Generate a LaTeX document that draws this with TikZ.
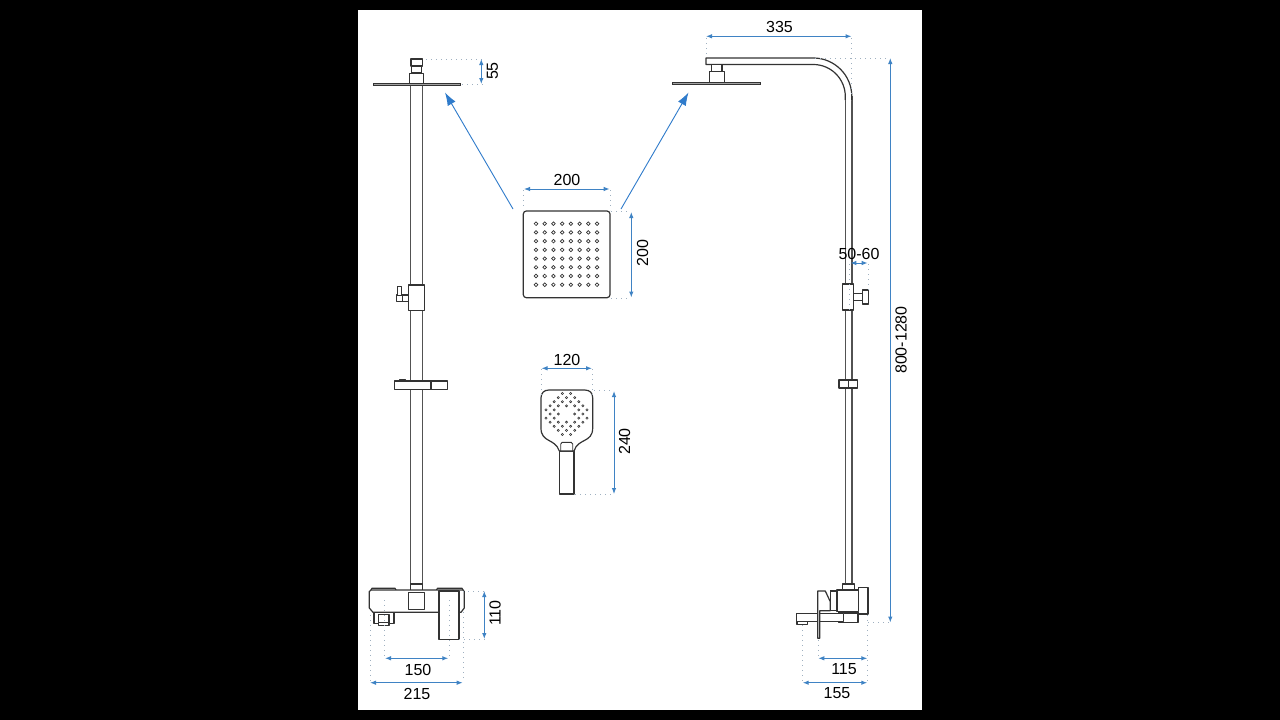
\documentclass[tikz,border=0pt]{standalone}
\usepackage{fontspec}
\setmainfont{Liberation Sans}
\usetikzlibrary{arrows.meta}
\definecolor{dimblue}{HTML}{3F83C4}
\definecolor{arrowblue}{HTML}{2F7BCB}
\definecolor{dotgray}{HTML}{9FB0C0}
\definecolor{partgray}{HTML}{333333}
\tikzset{
  part/.style={draw=partgray,line width=1.2pt,line join=round,fill=white},
  pipe/.style={draw=partgray!85,line width=1.5pt},
  plate/.style={draw=partgray,line width=1pt,fill=partgray!45},
  dimline/.style={draw=dimblue,line width=1pt,{Latex[length=6pt,width=4.5pt]}-{Latex[length=6pt,width=4.5pt]}},
  leader/.style={draw=dotgray,line width=1pt,dash pattern=on 1pt off 4pt},
  pointer/.style={draw=arrowblue,line width=0.9pt,-{Latex[length=13pt,width=9pt]}},
  dimtext/.style={font=\fontsize{16}{16}\selectfont,text=black,inner sep=0pt},
}
\begin{document}
\begin{tikzpicture}[x=1pt,y=-1pt]
  \useasboundingbox (0,0) rectangle (1280,720);
  \fill[black] (0,0) rectangle (1280,720);
  \fill[white] (358,10) rectangle (922,710);
  % left view, pipe and head
  \draw[pipe] (410.7,85) -- (410.7,584) (422.3,85) -- (422.3,584);
  \draw[part] (411,59) rectangle (422.5,66);
  \draw[part] (411.5,66) rectangle (421.5,73);
  \draw[part,line width=.9pt] (409.7,73) rectangle (423,83);
  \draw[plate] (373,83) rectangle (460.5,85.3);
  \draw[part] (408.3,285) rectangle (424.3,310.7);
  \draw[part] (402.3,295) rectangle (408.3,301.5);
  \draw[part] (396.7,295) rectangle (402.3,301.7);
  \draw[part,line width=.9pt] (397.7,286) rectangle (401.7,295);
  \draw[part] (400,379.5) rectangle (405.7,381);
  \draw[part] (394.3,381) rectangle (447.3,389.3);
  \draw[partgray,line width=1.6pt] (431,381) -- (431,389.3);
  % left view, mixer
  \draw[part] (410.7,584) rectangle (422.7,590.5);
  \draw[part] (371,590) -- ++(1,-1.8) -- (395,588.2) -- ++(1,1.8) (436.5,590) -- ++(1,-1.8) -- (462,588.2) -- ++(1,1.8);
  \draw[part] (371,590) -- (463,590) -- ++(1.3,1.5) -- (464.3,608) -- (461,612.3) -- (373,612.3) -- (369.3,608) -- (369.3,591.5) -- cycle;
  \draw[part] (408.3,592.7) rectangle (424.3,609.3);
  \draw[part] (439,591) rectangle (459,639.3);
  \draw[partgray,line width=1.4pt] (439,591) -- (459,591);
  \draw[part] (374,612.3) rectangle (394,623.7);
  \draw[part] (378.3,614.3) rectangle (389,625.7);
  \draw[partgray,line width=.8pt] (378.3,622.3) -- (389,622.3);
  % right view, arm and pipe
  \draw[pipe] (845.3,96) -- (845.3,584) (851.8,96) -- (851.8,584);
  \draw[part] (851.8,100) -- (851.8,96.5) arc[start angle=0,end angle=-90,radius=38.5] -- (706,58) -- (706,64.5) -- (813.3,64.5) arc[start angle=-90,end angle=0,radius=32] -- (845.3,100);
  \draw[part] (711.3,64.5) rectangle (722,71.7);
  \draw[part,line width=.9pt] (709.3,71.7) rectangle (724,82);
  \draw[plate] (672.7,82) rectangle (760,84.5);
  \draw[part] (842.3,284) rectangle (853.7,310);
  \draw[part] (853.7,293.3) rectangle (862.7,300.7);
  \draw[part] (862.7,290) rectangle (868.7,304);
  \draw[part] (839,380) rectangle (857.7,388);
  \draw[partgray,line width=.8pt] (848.3,380) -- (848.3,388);
  % right view, mixer
  \draw[part] (842.7,584) rectangle (854.7,590);
  \draw[part] (858.7,587.7) rectangle (868,614);
  \draw[part] (838.7,613) rectangle (858,622.7);
  \draw[part] (796.5,613.3) rectangle (843.7,621.7);
  \draw[part] (797,621.7) rectangle (807.7,624.3);
  \draw[part] (819.7,610.7) rectangle (838.7,613.3);
  \draw[part] (837,590) rectangle (858.7,611.7);
  \draw[part] (817.7,591) -- (825.3,591) -- (830.3,601.7) -- (830.3,610.7) -- (819.7,610.7) -- (819.7,638.3) -- (817.7,638.3) -- cycle;
  \draw[partgray,line width=1.4pt] (830.3,591) -- (837,591) (830.3,591) -- (830.3,610.7);
  % square head
  \draw[part,rounded corners=3pt] (523.3,211) rectangle (610,297.7);
  \foreach \i in {0,...,7}
    \foreach \j in {0,...,7}
      \draw[partgray,line width=.7pt] (536+8.72*\i,223.7+8.72*\j) circle[radius=1.8];
  % hand shower
  \draw[part] (559.3,451) rectangle (574,494);
  \draw[part] (549,390) -- (584.7,390) .. controls (590,390) and (592.7,393) .. (592.7,398) -- (592.7,428) .. controls (592.7,443) and (578,438) .. (574,451) -- (559.3,451) .. controls (555,438) and (541,443) .. (541,428) -- (541,398) .. controls (541,393) and (544,390) .. (549,390) -- cycle;
  \draw[part,fill=none,line width=.9pt] (560.7,451) -- (560.7,444) -- ++(1.5,-1.7) -- (571.2,442.3) -- ++(1.5,1.7) -- (572.7,451);
  \foreach \i in {-4,...,4}
    \foreach \j in {-4,...,4} {
      \pgfmathtruncatemacro\keep{and(\i*\i+\j*\j<15,\i*\i+\j*\j>1)}
      \ifnum\keep=1
        \draw[partgray,line width=.6pt] (566.5+4.1*\i-4.1*\j,414+4.1*\i+4.1*\j) circle[radius=1.1];
      \fi
    }
  % pointers
  \coordinate (headL) at (445,92.5);
  \coordinate (headR) at (688.5,92.5);
  \coordinate (plateL) at (513,209);
  \coordinate (plateR) at (621,209);
  \draw[pointer] (plateL) -- (headL);
  \draw[pointer] (plateR) -- (headR);
  % leaders
  \draw[leader] (426,59) -- (485,59) (462,84) -- (485,84);
  \draw[leader] (384,600) -- (384,657) (449,600) -- (449,657);
  \draw[leader] (370,615) -- (370,681) (463,612) -- (463,681);
  \draw[leader] (463,591) -- (485,591) (459,639.5) -- (485,639.5);
  \draw[leader] (818,640) -- (818,657) (867.5,615) -- (867.5,681) (802.5,625) -- (802.5,681);
  \draw[leader] (868,622.5) -- (889,622.5);
  \draw[leader] (706,38) -- (706,57) (851.5,38) -- (851.5,96) (815,58) -- (889,58);
  \draw[leader] (849,264) -- (849,310) (868,264) -- (868,290);
  \draw[leader] (523,190) -- (523,210) (610,190) -- (610,210) (611,211) -- (630,211) (611,298) -- (630,298);
  \draw[leader] (541,369) -- (541,395) (592,369) -- (592,395) (594,390) -- (613,390) (575,494) -- (613,494);
  % dimensions
  \foreach \name/\ax/\ay/\bx/\by in {a/481.3/59/481.3/84, b/385/658.3/448.3/658.3, c/370/682.7/462.7/682.7,
    d/484.3/591/484.3/639, e/818.3/658.3/867.3/658.3, f/802.7/682.7/867.3/682.7, g/890.3/58/890.3/622.5,
    h/706/36.3/851.5/36.3, i/850.3/263/867.7/263, j/524/189/609.7/189, k/631.3/212/631.3/297.5,
    l/541.5/368.3/592/368.3, m/614/391/614/494}
  {
    \coordinate (\name1) at (\ax,\ay);
    \coordinate (\name2) at (\bx,\by);
    \draw[dimline] (\name1) -- (\name2);
  }
  \node[dimtext,rotate=90] (t55) at (492.5,71) {55};
  \node[dimtext] (t150) at (418,669.5) {150};
  \node[dimtext] (t215) at (417,693.5) {215};
  \node[dimtext,rotate=90] (t110) at (495,613) {110};
  \node[dimtext] (t115) at (844,669.5) {115};
  \node[dimtext] (t155) at (837,693.5) {155};
  \node[dimtext,rotate=90] (t800) at (901,340) {800-1280};
  \node[dimtext] (t335) at (779.5,27) {335};
  \node[dimtext] (t5060) at (859,254) {50-60};
  \node[dimtext] (t200a) at (567,180) {200};
  \node[dimtext,rotate=90] (t200b) at (642.7,253) {200};
  \node[dimtext] (t120) at (567,360) {120};
  \node[dimtext,rotate=90] (t240) at (624.5,441.5) {240};
\end{tikzpicture}
\end{document}
